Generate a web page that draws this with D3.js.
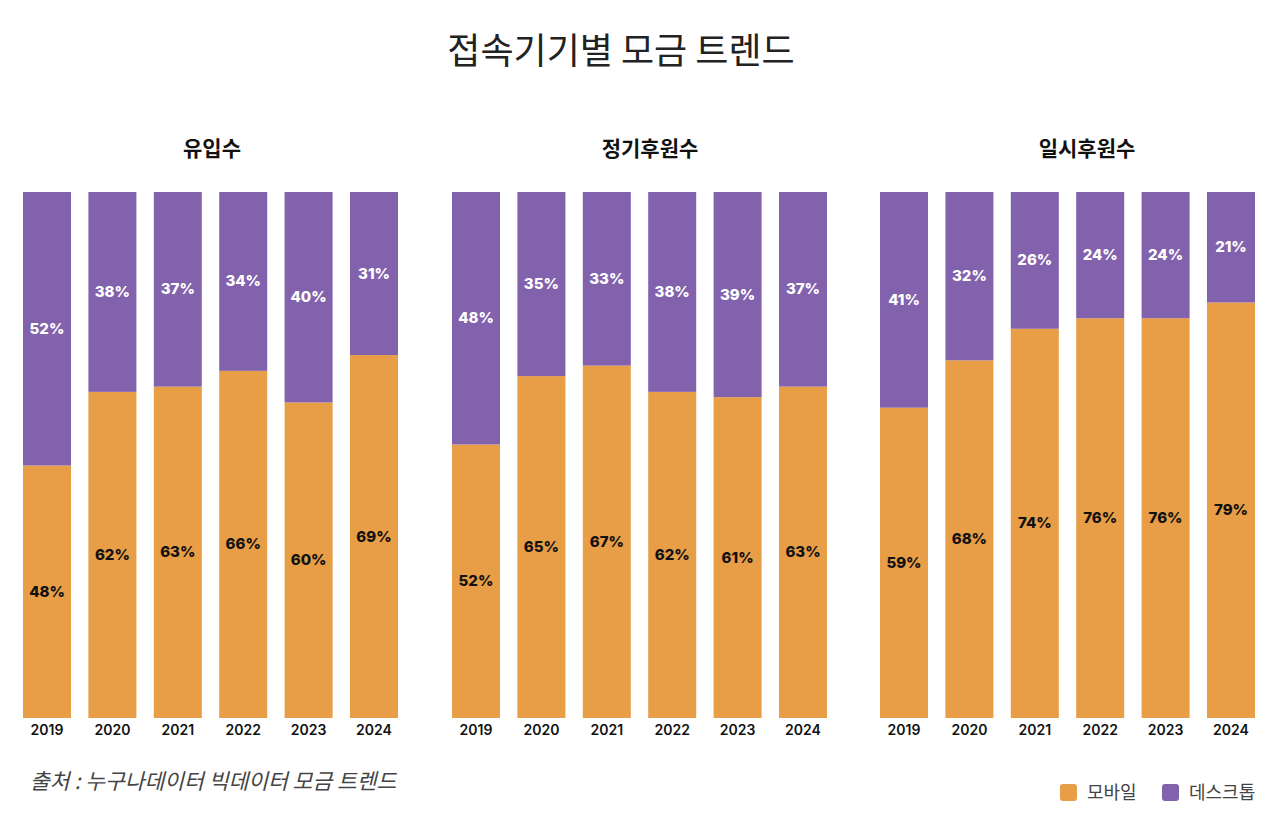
<!DOCTYPE html>
<html>
<head>
<meta charset="utf-8">
<script src="https://cdn.jsdelivr.net/npm/d3@7"></script>
<style>
  body { margin: 0; background: #fff; }
  text { font-family: "Noto Sans CJK KR", "Noto Sans", sans-serif; }
  .pct { font-family: Inter, "Noto Sans CJK KR", sans-serif; font-weight: 800; font-size: 15px; }
  .year { font-family: Inter, "Noto Sans CJK KR", sans-serif; font-weight: 600; font-size: 14px; fill: #111; }
</style>
</head>
<body>
<svg id="chart" width="1280" height="832"></svg>
<script>
const years = ["2019", "2020", "2021", "2022", "2023", "2024"];
const panelTitles = ["유입수", "정기후원수", "일시후원수"];
// 모바일 / 데스크톱 share per panel
const mobileInflow = [48, 62, 63, 66, 60, 69];
const mobileRegular = [52, 65, 67, 62, 61, 63];
const mobileOnetime = [59, 68, 74, 76, 76, 79];
const desktopInflow = [52, 38, 37, 34, 40, 31];
const desktopRegular = [48, 35, 33, 38, 39, 37];
const desktopOnetime = [41, 32, 26, 24, 24, 21];
const seriesNames = ["모바일", "데스크톱"];

const mobileColor = "#e89d47";
const desktopColor = "#8262ac";

const svg = d3.select("#chart");

svg.append("text")
    .attr("x", 621)
    .attr("y", 64)
    .attr("text-anchor", "middle")
    .attr("font-size", "36px")
    .attr("font-weight", 400)
    .attr("fill", "#222")
    .text("접속기기별 모금 트렌드");

const panels = [
    { title: panelTitles[0], mobile: mobileInflow, desktop: desktopInflow, x0: 23, titleX: 212 },
    { title: panelTitles[1], mobile: mobileRegular, desktop: desktopRegular, x0: 452, titleX: 650 },
    { title: panelTitles[2], mobile: mobileOnetime, desktop: desktopOnetime, x0: 880, titleX: 1087 }
];

const panelWidth = 375;
const barTop = 192, barBottom = 718;

const x = d3.scaleBand()
    .domain(years)
    .range([0, panelWidth])
    .paddingInner(0.266)
    .paddingOuter(0);

const y = d3.scaleLinear()
    .domain([0, 100])
    .range([barBottom, barTop]);

panels.forEach(function (p) {
    svg.append("text")
        .attr("x", p.titleX)
        .attr("y", 156)
        .attr("text-anchor", "middle")
        .attr("font-size", "21px")
        .attr("font-weight", 700)
        .attr("fill", "#111")
        .text(p.title);

    const g = svg.append("g").attr("transform", "translate(" + p.x0 + ",0)");

    const rows = years.map((yr, i) => ({ year: yr, mobile: p.mobile[i], desktop: p.desktop[i] }));
    const stacked = d3.stack().keys(["mobile", "desktop"])(rows);
    const colors = { mobile: mobileColor, desktop: desktopColor };

    stacked.forEach(function (layer) {
        const lg = g.append("g");
        lg.selectAll("rect")
            .data(layer)
            .join("rect")
            .attr("x", d => x(d.data.year))
            .attr("width", x.bandwidth())
            .attr("y", d => y(d[1]))
            .attr("height", d => y(d[0]) - y(d[1]))
            .attr("fill", colors[layer.key]);

        lg.selectAll("text")
            .data(layer)
            .join("text")
            .attr("class", "pct")
            .attr("x", d => x(d.data.year) + x.bandwidth() / 2)
            .attr("y", d => (y(d[0]) + y(d[1])) / 2 + 5)
            .attr("text-anchor", "middle")
            .attr("fill", layer.key === "mobile" ? "#111" : "#fff")
            .text(d => d.data[layer.key] + "%");
    });

    const axis = d3.axisBottom(x).tickSize(0).tickPadding(7);
    const ag = g.append("g")
        .attr("transform", "translate(0," + barBottom + ")")
        .call(axis);
    ag.select(".domain").remove();
    ag.selectAll("text").attr("class", "year");
    ag.attr("font-size", null).attr("font-family", null);
});

svg.append("text")
    .attr("x", 30)
    .attr("y", 789)
    .attr("font-size", "21.5px")
    .attr("font-style", "italic")
    .attr("fill", "#444")
    .text("출처 : 누구나데이터 빅데이터 모금 트렌드");

// legend
const legend = svg.append("g").attr("transform", "translate(1060,784)");
const legendX = [0, 102];
seriesNames.forEach(function (name, i) {
    legend.append("rect")
        .attr("x", legendX[i])
        .attr("y", 0)
        .attr("width", 17)
        .attr("height", 17)
        .attr("rx", 3)
        .attr("fill", i === 0 ? mobileColor : desktopColor);
    legend.append("text")
        .attr("x", legendX[i] + 27)
        .attr("y", 15)
        .attr("font-size", "18px")
        .attr("fill", "#444")
        .text(name);
});
</script>
</body>
</html>
